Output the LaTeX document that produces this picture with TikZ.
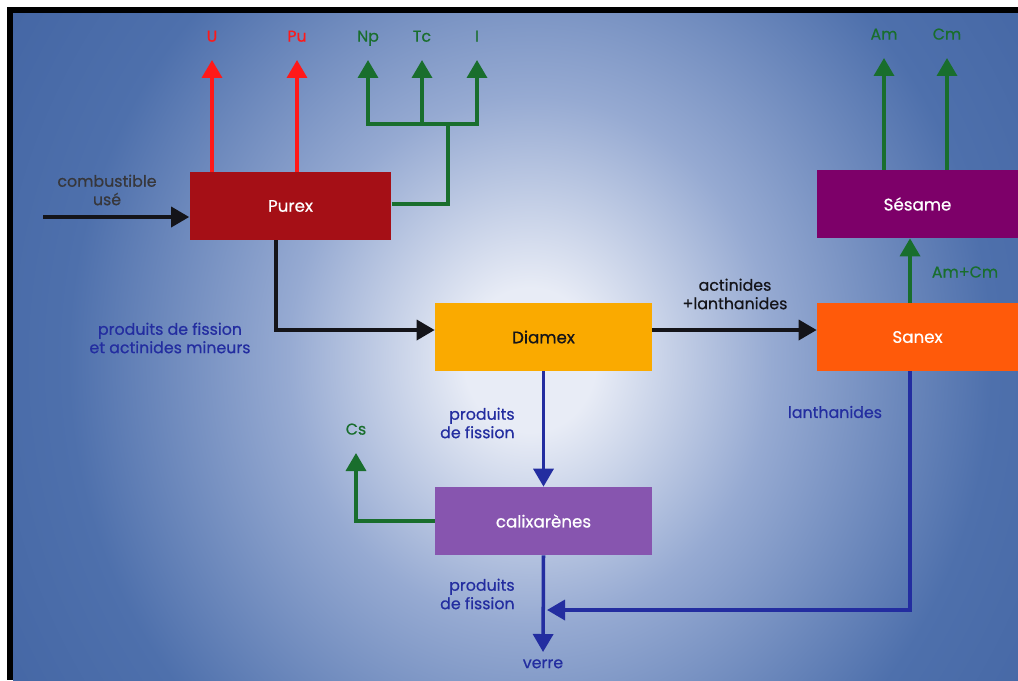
\documentclass[tikz,border=0pt]{standalone}
\usepackage{fontspec}
\setmainfont{Poppins}
\newfontfamily\labelfont{Poppins}[UprightFeatures={FakeBold=0.6}]
\usetikzlibrary{arrows.meta}

\definecolor{purexred}{RGB}{165,15,22}
\definecolor{diamexorange}{RGB}{250,170,0}
\definecolor{sanexorange}{RGB}{255,90,10}
\definecolor{sesamepurple}{RGB}{125,0,105}
\definecolor{calixviolet}{RGB}{135,85,175}
\definecolor{flowred}{RGB}{255,25,25}
\definecolor{flowgreen}{RGB}{25,110,45}
\definecolor{flowblue}{RGB}{35,45,160}
\definecolor{flowblack}{RGB}{20,20,25}
\definecolor{glowwhite}{RGB}{232,236,246}
\definecolor{glowmid}{RGB}{150,170,210}
\definecolor{bgblue}{RGB}{78,112,172}
\definecolor{bgdark}{RGB}{60,94,158}

\pgfdeclareradialshading{glow}{\pgfpoint{0bp}{0bp}}{color(0bp)=(glowwhite); color(3bp)=(glowwhite); color(11bp)=(glowmid); color(21bp)=(bgblue); color(34bp)=(bgdark); color(50bp)=(bgdark)}

\tikzset{
	unitbox/.style={rectangle, minimum height=1.36cm, inner sep=0pt, text=white,
		font=\labelfont\fontsize{9.5}{11}\selectfont},
	elem/.style={inner sep=0pt, text depth=0pt, anchor=south,
		font=\labelfont\fontsize{9}{10.5}\selectfont},
	note/.style={inner sep=0pt, align=center, font=\labelfont\fontsize{9}{10.5}\selectfont},
	flow/.style={line width=2pt, -{Triangle[length=0.36cm,width=0.4cm]}},
}

\begin{document}
\begin{tikzpicture}[x=0.02cm,y=-0.02cm]
	\useasboundingbox (0,0) rectangle (1018,680);
	% background
	\fill[white] (0,0) rectangle (1018,680);
	\begin{scope}
		\clip (13,13) rectangle (1018,680);
		\shade[shading=glow] (-20,-240) rectangle (1080,960);
	\end{scope}
	\fill[black] (7,7) rectangle (1018,13);
	\fill[black] (7,7) rectangle (13,680);

	% process units
	\node[unitbox, fill=purexred, minimum width=4.04cm] (purex) at (290.5,206) {Purex};
	\node[unitbox, fill=diamexorange, text=flowblack, minimum width=4.34cm] (diamex) at (543.5,337) {Diamex};
	\node[unitbox, fill=sanexorange, minimum width=4.02cm] (sanex) at (917.5,337) {Sanex};
	\node[unitbox, fill=sesamepurple, minimum width=4.02cm] (sesame) at (917.5,204) {Sésame};
	\node[unitbox, fill=calixviolet, minimum width=4.34cm] (calix) at (543.5,521) {calixarènes};

	% elements
	\node[elem, text=flowred] (u) at (212,42) {U};
	\node[elem, text=flowred] (pu) at (297,42) {Pu};
	\node[elem, text=flowgreen] (np) at (368,42) {Np};
	\node[elem, text=flowgreen] (tc) at (422,42) {Tc};
	\node[elem, text=flowgreen] (iod) at (477,42) {I};
	\node[elem, text=flowgreen] (am) at (884,40) {Am};
	\node[elem, text=flowgreen] (cm) at (947,40) {Cm};
	\node[elem, text=flowgreen] (cs) at (356,435) {Cs};
	\node[elem, anchor=north, text=flowblue] (verre) at (543,659) {verre};

	% stream labels
	\node[note, text=flowblack!85] (comb) at (107,190) {combustible\\usé};
	\node[note, text=flowblue] (pfam) at (170,338) {produits de fission\\et actinides mineurs};
	\node[note, text=flowblack] (actlan) at (735,294) {actinides\\+lanthanides};
	\node[note, text=flowgreen] (amcm) at (965,272) {Am+Cm};
	\node[note, text=flowblue, align=right, anchor=east] (pfa) at (515,423) {produits\\de fission};
	\node[note, text=flowblue, align=right, anchor=east] (pfb) at (515,594) {produits\\de fission};
	\node[note, text=flowblue] (lanth) at (835,412) {lanthanides};

	\coordinate (feed) at (43,217);
	\coordinate (fork) at (448,124);
	\coordinate (merge) at (547,610);

	% streams
	\draw[flow, flowblack] (feed) -- (feed -| purex.west);
	\draw[flow, flowred, shorten >=0.36cm] (purex.north -| u) -- (u.south);
	\draw[flow, flowred, shorten >=0.36cm] (purex.north -| pu) -- (pu.south);
	\draw[line width=2pt, flowgreen] ([yshift=0.04cm]purex.east) -| (fork);
	\draw[flow, flowgreen, shorten >=0.36cm] (fork) -| (np.south);
	\draw[flow, flowgreen, shorten >=0.36cm] (fork) -| (tc.south);
	\draw[flow, flowgreen, shorten >=0.36cm] (fork) -| (iod.south);
	\draw[flow, flowblack] ([xshift=-0.29cm]purex.south) |- ([yshift=0.14cm]diamex.west);
	\draw[flow, flowblack] ([yshift=0.14cm]diamex.east) -- ([yshift=0.14cm]sanex.west);
	\draw[flow, flowgreen] ([xshift=-0.15cm]sanex.north) -- ([xshift=-0.15cm]sesame.south);
	\draw[flow, flowgreen, shorten >=0.36cm] (sesame.north -| am) -- (am.south);
	\draw[flow, flowgreen, shorten >=0.36cm] (sesame.north -| cm) -- (cm.south);
	\draw[flow, flowblue] (diamex.south) -- (calix.north);
	\draw[flow, flowgreen, shorten >=0.36cm] (calix.west) -| (cs.south);
	\draw[flow, flowblue, shorten >=0.14cm] (calix.south) -- (verre.north);
	\draw[flow, flowblue] ([xshift=-0.15cm]sanex.south) |- (merge);
\end{tikzpicture}
\end{document}
